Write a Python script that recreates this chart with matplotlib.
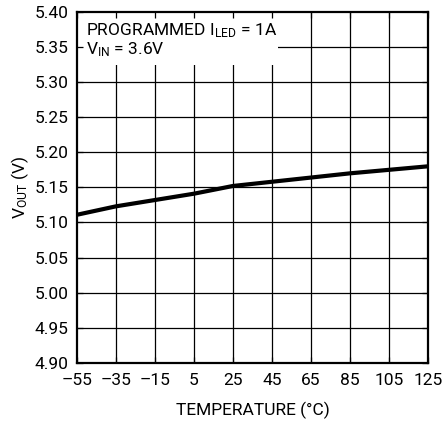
import matplotlib

matplotlib.use("Agg")
import matplotlib.pyplot as plt
from matplotlib.patches import Rectangle

plt.rcParams["font.family"] = ["Roboto", "DejaVu Sans"]
plt.rcParams["mathtext.default"] = "regular"

# VOUT vs temperature
temp_c = [-55, -35, -15, 5, 25, 45, 65, 85, 105, 125]
vout = [5.111, 5.123, 5.132, 5.141, 5.152, 5.158, 5.164, 5.170, 5.175, 5.180]

x_ticks = [-55, -35, -15, 5, 25, 45, 65, 85, 105, 125]
y_ticks = [4.90, 4.95, 5.00, 5.05, 5.10, 5.15, 5.20, 5.25, 5.30, 5.35, 5.40]


def main():
    fig = plt.figure(figsize=(4.42, 4.23), dpi=100)
    ax = fig.add_axes([0.174, 0.142, 0.794, 0.830])

    # grid drawn by hand so the label box can sit over it but under the ticks
    ax.vlines(x_ticks[1:-1], y_ticks[0], y_ticks[-1], color="black", lw=0.9, zorder=0.5)
    ax.hlines(y_ticks[1:-1], x_ticks[0], x_ticks[-1], color="black", lw=0.9, zorder=0.5)
    ax.add_patch(Rectangle((x_ticks[0], 5.3245), 48 - x_ticks[0], 5.40 - 5.3245,
                           facecolor="white", edgecolor="none", zorder=1))

    ax.plot(temp_c, vout, color="black", lw=3.0, solid_capstyle="butt", zorder=3)

    ax.set_xlim(x_ticks[0], x_ticks[-1])
    ax.set_ylim(y_ticks[0], y_ticks[-1])
    ax.set_xticks(x_ticks)
    ax.set_yticks(y_ticks)
    ax.set_xticklabels([str(t).replace("-", "\u2013") for t in x_ticks])
    ax.set_yticklabels([f"{v:.2f}" for v in y_ticks])
    ax.tick_params(direction="in", length=4, width=0.9, top=True, right=True,
                   labelsize=12.5, colors="black")
    ax.tick_params(axis="x", pad=7)
    ax.tick_params(axis="y", pad=6)
    for axis in (ax.xaxis, ax.yaxis):
        axis.set_zorder(2)
    for s in ax.spines.values():
        s.set_linewidth(1.6)
        s.set_zorder(4)

    ax.set_xlabel("TEMPERATURE (\u00b0C)", fontsize=12.5, labelpad=10)
    ax.set_ylabel("V$_{OUT}$ (V)", fontsize=12.5, labelpad=3)

    ax.text(-50.5, 5.367, "PROGRAMMED I$_{LED}$ = 1A", fontsize=12.5, va="baseline", zorder=5)
    ax.text(-50.5, 5.339, "V$_{IN}$ = 3.6V", fontsize=12.5, va="baseline", zorder=5)

    fig.savefig("out.png", dpi=100)


if __name__ == "__main__":
    main()
